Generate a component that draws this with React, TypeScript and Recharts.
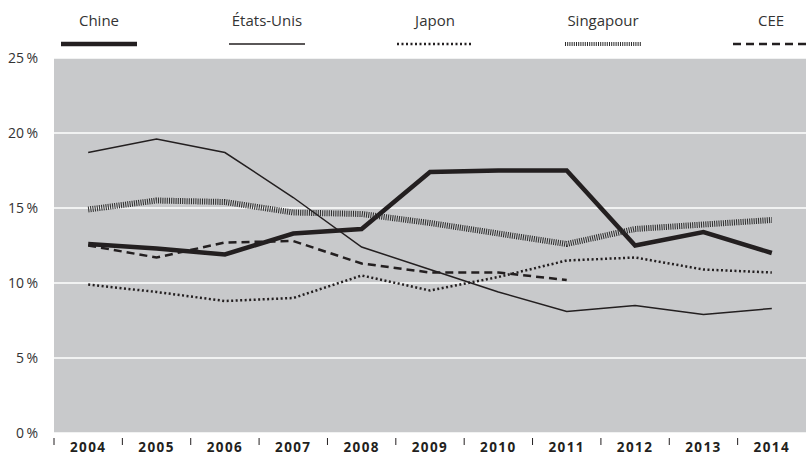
import { LineChart, Line, XAxis, YAxis, CartesianGrid } from 'recharts';

// values (percent)
const years = ['2004', '2005', '2006', '2007', '2008', '2009', '2010', '2011', '2012', '2013', '2014'];
const chine = [12.6, 12.3, 11.9, 13.3, 13.6, 17.4, 17.5, 17.5, 12.5, 13.4, 12.0];
const etatsUnis = [18.7, 19.6, 18.7, 15.7, 12.4, 10.9, 9.4, 8.1, 8.5, 7.9, 8.3];
const japon = [9.9, 9.4, 8.8, 9.0, 10.5, 9.5, 10.4, 11.5, 11.7, 10.9, 10.7];
const singapour = [14.9, 15.5, 15.4, 14.7, 14.6, 14.0, 13.3, 12.6, 13.6, 13.9, 14.2];
const cee = [12.5, 11.7, 12.7, 12.8, 11.3, 10.7, 10.7, 10.2, null, null, null];
const yTicks = [0, 5, 10, 15, 20, 25];

const INK = '#231f20';
const FONT = '"Open Sans", "Noto Sans", sans-serif';

const series = [
  { key: 'chine', name: 'Chine', width: 4.5, dash: undefined, color: INK },
  { key: 'etatsUnis', name: 'États-Unis', width: 1.5, dash: undefined, color: INK },
  { key: 'japon', name: 'Japon', width: 2.5, dash: '2 2.5', color: INK },
  { key: 'singapour', name: 'Singapour', width: 6, dash: '1 1.2', color: '#2b2b2b' },
  { key: 'cee', name: 'CEE', width: 2.5, dash: '8 5', color: INK },
];

const data = years.map((year, i) => ({
  year,
  chine: chine[i],
  etatsUnis: etatsUnis[i],
  japon: japon[i],
  singapour: singapour[i],
  cee: cee[i],
}));

const YearTick = (props: any) => {
  const { x, y, payload } = props;
  const half = payload.offset || 0;
  return (
    <g>
      <line x1={x - half} x2={x - half} y1={y - 1} y2={y + 6} stroke={INK} strokeWidth={1} />
      <text
        x={x}
        y={y + 13}
        textAnchor="middle"
        fontFamily={FONT}
        fontSize={13.5}
        fontWeight={700}
        letterSpacing={1.4}
        fill={INK}
      >
        {payload.value}
      </text>
    </g>
  );
};

function LegendRow() {
  return (
    <div style={{ position: 'absolute', left: 15, top: 9, display: 'flex', fontFamily: FONT }}>
      {series.map((s) => (
        <div key={s.key} style={{ width: 168, display: 'flex', flexDirection: 'column', alignItems: 'center' }}>
          <span style={{ fontSize: 15, color: '#333', lineHeight: '22px' }}>{s.name}</span>
          <svg width={76} height={20}>
            <line
              x1={0}
              x2={76}
              y1={13}
              y2={13}
              stroke={s.color}
              strokeWidth={s.key === 'singapour' ? 4 : s.width}
              strokeDasharray={s.dash}
            />
          </svg>
        </div>
      ))}
    </div>
  );
}

export default function App() {
  return (
    <div style={{ position: 'absolute', left: 0, top: 0, width: 806, height: 455, background: '#fff' }}>
      <LegendRow />
      <LineChart width={806} height={455} data={data} margin={{ top: 58, right: 0, bottom: 0, left: 0 }}>
        <CartesianGrid vertical={false} fill="#c8c9cb" stroke="#ffffff" strokeWidth={1.5} />
        <XAxis
          dataKey="year"
          scale="band"
          axisLine={false}
          tickLine={false}
          tickMargin={0}
          interval={0}
          height={22}
          tick={<YearTick />}
        />
        <YAxis
          width={54}
          domain={[0, 25]}
          ticks={yTicks}
          axisLine={false}
          tickLine={false}
          tickMargin={10}
          tickFormatter={(v: number) => `${v}\u2009%`}
          tick={{ fontFamily: FONT, fontSize: 14, fill: '#333' }}
        />
        {series.map((s) => (
          <Line
            key={s.key}
            dataKey={s.key}
            name={s.name}
            type="linear"
            stroke={s.color}
            strokeWidth={s.width}
            strokeDasharray={s.dash}
            strokeLinejoin="miter"
            dot={false}
            activeDot={false}
            connectNulls={false}
            isAnimationActive={false}
          />
        ))}
      </LineChart>
    </div>
  );
}
